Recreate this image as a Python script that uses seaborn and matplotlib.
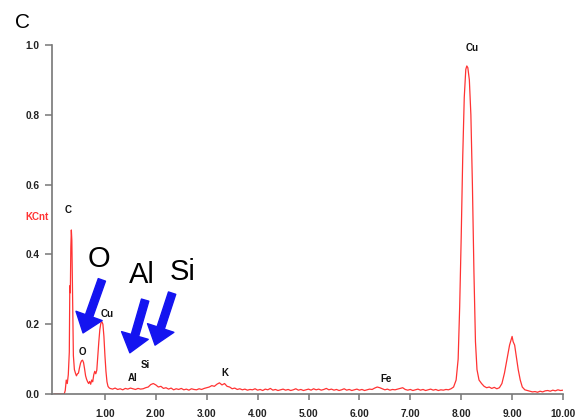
import matplotlib
matplotlib.use("Agg")
import matplotlib.pyplot as plt
import seaborn as sns
import pandas as pd

# ---------------- data ----------------
# low-energy region (C, O, Cu-L)
low_kev = [0.00, 0.20, 0.22, 0.24, 0.26, 0.28, 0.30, 0.31, 0.32, 0.33, 0.34, 0.35, 0.36,
           0.37, 0.38, 0.40, 0.42, 0.44, 0.46, 0.48, 0.50, 0.52, 0.54, 0.56, 0.58,
           0.60, 0.62, 0.64, 0.66, 0.68, 0.70, 0.72, 0.74, 0.76, 0.78, 0.80, 0.82,
           0.84, 0.86, 0.88, 0.90, 0.92, 0.94, 0.96, 0.98, 1.00, 1.02, 1.04, 1.06,
           1.08]
low_kcnt = [0.000, 0.000, 0.010, 0.040, 0.030, 0.055, 0.120, 0.310, 0.290, 0.420, 0.470, 0.440, 0.330,
            0.200, 0.110, 0.070, 0.060, 0.052, 0.058, 0.060, 0.075, 0.088, 0.095, 0.097, 0.090,
            0.072, 0.052, 0.042, 0.035, 0.030, 0.036, 0.028, 0.040, 0.035, 0.055, 0.065, 0.058,
            0.068, 0.110, 0.150, 0.185, 0.203, 0.207, 0.200, 0.165, 0.110, 0.065, 0.035, 0.022,
            0.018]

# background region (Al, Si, K, Fe)
mid_kev = [1.10, 1.15, 1.20, 1.25, 1.30, 1.35, 1.40, 1.45, 1.50, 1.55, 1.60, 1.65, 1.70, 1.75,
           1.80, 1.85, 1.90, 1.95, 2.00, 2.05, 2.10, 2.15, 2.20, 2.25, 2.30, 2.35, 2.40, 2.45,
           2.50, 2.55, 2.60, 2.65, 2.70, 2.75, 2.80, 2.85, 2.90, 2.95, 3.00, 3.05, 3.10, 3.15,
           3.20, 3.25, 3.30, 3.35, 3.40, 3.45, 3.50, 3.55, 3.60, 3.65, 3.70, 3.75, 3.80, 3.85,
           3.90, 3.95, 4.00, 4.05, 4.10, 4.15, 4.20, 4.25, 4.30, 4.35, 4.40, 4.45, 4.50, 4.55,
           4.60, 4.65, 4.70, 4.75, 4.80, 4.85, 4.90, 4.95, 5.00, 5.05, 5.10, 5.15, 5.20, 5.25,
           5.30, 5.35, 5.40, 5.45, 5.50, 5.55, 5.60, 5.65, 5.70, 5.75, 5.80, 5.85, 5.90, 5.95,
           6.00, 6.05, 6.10, 6.15, 6.20, 6.25, 6.30, 6.35, 6.40, 6.45, 6.50, 6.55, 6.60, 6.65,
           6.70, 6.75, 6.80, 6.85, 6.90, 6.95, 7.00, 7.05, 7.10, 7.15, 7.20, 7.25, 7.30, 7.35,
           7.40, 7.45, 7.50, 7.55, 7.60, 7.65, 7.70, 7.75, 7.80]
mid_kcnt = [0.016, 0.014, 0.017, 0.013, 0.015, 0.012, 0.016, 0.014, 0.017, 0.015, 0.013, 0.016, 0.014, 0.015,
            0.018, 0.020, 0.027, 0.030, 0.026, 0.020, 0.022, 0.016, 0.018, 0.014, 0.017, 0.012, 0.015, 0.013,
            0.016, 0.012, 0.014, 0.011, 0.015, 0.013, 0.012, 0.015, 0.013, 0.016, 0.018, 0.020, 0.024, 0.022,
            0.028, 0.032, 0.026, 0.030, 0.022, 0.020, 0.015, 0.017, 0.013, 0.015, 0.012, 0.014, 0.011, 0.013,
            0.012, 0.015, 0.011, 0.013, 0.010, 0.014, 0.012, 0.016, 0.011, 0.013, 0.010, 0.012, 0.014, 0.011,
            0.013, 0.010, 0.012, 0.015, 0.011, 0.013, 0.010, 0.012, 0.014, 0.011, 0.015, 0.012, 0.014, 0.011,
            0.013, 0.016, 0.012, 0.014, 0.011, 0.013, 0.010, 0.012, 0.015, 0.011, 0.013, 0.010, 0.012, 0.014,
            0.011, 0.013, 0.010, 0.012, 0.014, 0.013, 0.017, 0.020, 0.018, 0.015, 0.012, 0.014, 0.011, 0.013,
            0.012, 0.014, 0.016, 0.018, 0.013, 0.011, 0.013, 0.010, 0.012, 0.014, 0.011, 0.013, 0.010, 0.012,
            0.014, 0.011, 0.013, 0.010, 0.012, 0.011, 0.013, 0.012, 0.015]

# copper K region
cu_kev = [7.85, 7.90, 7.94, 7.97, 8.00, 8.03, 8.06, 8.09, 8.11, 8.13, 8.16, 8.19, 8.22, 8.25,
          8.28, 8.31, 8.35, 8.40, 8.45, 8.50, 8.55, 8.60, 8.65, 8.70, 8.75, 8.80, 8.85, 8.90,
          8.95, 8.98, 9.00, 9.02, 9.05, 9.08, 9.12, 9.16, 9.20, 9.25, 9.30, 9.35, 9.40, 9.45,
          9.50, 9.55, 9.60, 9.65, 9.70, 9.75, 9.80, 9.85, 9.90, 9.95, 10.00]
cu_kcnt = [0.020, 0.040, 0.100, 0.250, 0.450, 0.680, 0.850, 0.930, 0.940, 0.935, 0.900, 0.800, 0.600, 0.350,
           0.150, 0.070, 0.040, 0.030, 0.022, 0.018, 0.020, 0.016, 0.019, 0.015, 0.018, 0.030, 0.060, 0.100,
           0.140, 0.155, 0.165, 0.150, 0.140, 0.110, 0.070, 0.040, 0.020, 0.012, 0.010, 0.008, 0.006, 0.007,
           0.005, 0.008, 0.006, 0.009, 0.010, 0.008, 0.011, 0.009, 0.012, 0.010, 0.011]

x_ticks = [1, 2, 3, 4, 5, 6, 7, 8, 9, 10]
x_tick_labels = ["1.00", "2.00", "3.00", "4.00", "5.00", "6.00", "7.00", "8.00", "9.00", "10.00"]
y_ticks = [0.0, 0.2, 0.4, 0.6, 0.8, 1.0]
y_tick_labels = ["0.0", "0.2", "0.4", "0.6", "0.8", "1.0"]

peak_labels = ["C", "O", "Cu", "Al", "Si", "K", "Fe", "Cu"]
peak_label_x = [0.275, 0.55, 1.04, 1.55, 1.80, 3.36, 6.52, 8.21]
peak_label_y = [0.527, 0.12, 0.229, 0.046, 0.082, 0.06, 0.043, 0.99]

callout_labels = ["O", "Al", "Si"]
callout_x = [0.88, 1.73, 2.53]
callout_y = [0.387, 0.341, 0.35]
arrow_tail_x = [0.94, 1.79, 2.32]
arrow_tail_y = [0.327, 0.269, 0.289]
arrow_tip_x = [0.57, 1.49, 1.985]
arrow_tip_y = [0.175, 0.118, 0.14]

# ---------------- plotting ----------------
df = pd.DataFrame({
    "keV": low_kev + mid_kev + cu_kev,
    "KCnt": low_kcnt + mid_kcnt + cu_kcnt,
})

sns.set_theme(style="white")
plt.rcParams["font.family"] = ["Liberation Sans", "DejaVu Sans"]

fig = plt.figure(figsize=(5.82, 4.19), dpi=100)
ax = fig.add_axes([52 / 582, 25 / 419, (563 - 52) / 582, (394 - 45) / 419])

sns.lineplot(data=df, x="keV", y="KCnt", ax=ax, color="#ff3333", linewidth=0.9,
             sort=False, estimator=None)

ax.set_xlim(-0.04, 10.0)
ax.set_ylim(0.0, 1.0)
ax.set_xlabel("")
ax.set_ylabel("")

ax.set_xticks(x_ticks)
ax.set_xticklabels(x_tick_labels, fontsize=7.3, fontweight="bold", color="#222222")
ax.set_yticks(y_ticks)
ax.set_yticklabels(y_tick_labels, fontsize=7.3, fontweight="bold", color="#222222")
ax.tick_params(axis="x", direction="out", length=4, width=1.1, color="#777777", pad=7,
               bottom=True)
ax.tick_params(axis="y", direction="out", length=5, width=1.1, color="#777777", pad=4,
               left=True)

for side in ["top", "right"]:
    ax.spines[side].set_visible(False)
for side in ["left", "bottom"]:
    ax.spines[side].set_color("#777777")
    ax.spines[side].set_linewidth(1.2)

for lab, lx, ly in zip(peak_labels, peak_label_x, peak_label_y):
    ax.text(lx, ly, lab, fontsize=7, fontweight="bold", color="#111111",
            ha="center", va="center", clip_on=False)

for lab, lx, ly in zip(callout_labels, callout_x, callout_y):
    ax.text(lx, ly, lab, fontsize=21, color="black", ha="center", va="center")

for tx, ty, hx, hy in zip(arrow_tail_x, arrow_tail_y, arrow_tip_x, arrow_tip_y):
    ax.annotate("", xy=(hx, hy), xytext=(tx, ty),
                arrowprops=dict(arrowstyle="simple,head_length=1.3,head_width=2.0,tail_width=0.55",
                                color="#1414f0", mutation_scale=10, shrinkA=0, shrinkB=0))

fig.text(36.5 / 582, 1 - 216.5 / 419, "KCnt", fontsize=7, fontweight="bold",
         color="#ff3333", ha="center", va="center")
fig.text(22 / 582, 1 - 22 / 419, "C", fontsize=15, color="black", ha="center", va="center")

fig.savefig("out.png", dpi=100)
